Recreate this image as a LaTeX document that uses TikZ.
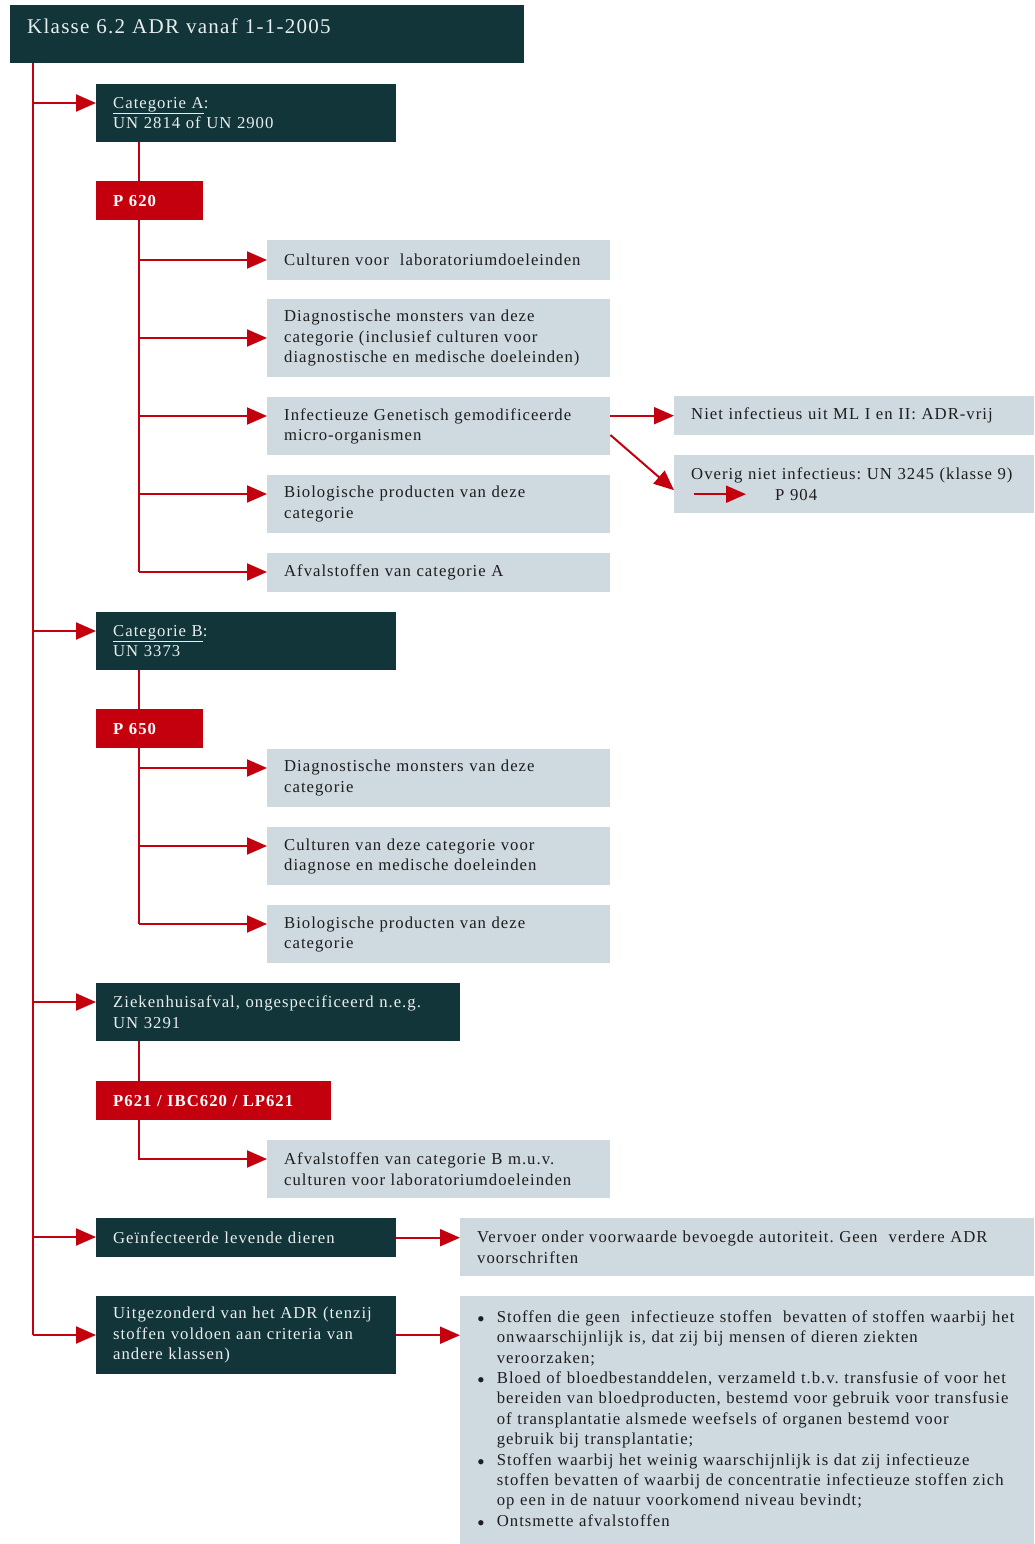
\documentclass[tikz,border=0pt]{standalone}
\usepackage{fontspec}
\setmainfont{Liberation Serif}[LetterSpace=6]
\usetikzlibrary{arrows.meta,calc,positioning}
\definecolor{adrdark}{HTML}{12353A}
\definecolor{adrred}{HTML}{C4000E}
\definecolor{adrlight}{HTML}{CFD9E0}
\definecolor{adrink}{HTML}{1E1E1E}
\definecolor{adrpale}{HTML}{E8EEEE}
\newcommand{\adrbullet}{\raisebox{-4pt}{\fontsize{22pt}{0pt}\selectfont\textbullet}}
\frenchspacing

\begin{document}
\begin{tikzpicture}[x=1pt,y=-1pt,
   every node/.style={anchor=north west,inner xsep=17pt,inner ysep=0pt,align=left,
     font=\fontsize{16.7pt}{20.4pt}\selectfont\frenchspacing},
   darkbox/.style={fill=adrdark,text=adrpale},
   redbox/.style={fill=adrred,text=white,minimum height=39pt,
     font=\fontsize{16.7pt}{20.4pt}\selectfont\bfseries},
   lightbox/.style={fill=adrlight,text=adrink},
   subbox/.style={lightbox,text width=309pt},
   wire/.style={draw=adrred,line width=2pt},
   link/.style={wire,-{Triangle[length=20pt,width=17pt]}}]
   \useasboundingbox (0,0) rectangle (1034,1544);
   \node[darkbox,text width=480pt,text height=28pt,text depth=30pt,
     font=\fontsize{21pt}{24pt}\selectfont] (title) at (10,5) {Klasse 6.2 ADR vanaf 1-1-2005};
   % categorie A
   \node[darkbox,text width=266pt,minimum height=58pt] (catA) at (96,84) {\underline{Categorie A}:\\UN 2814 of UN 2900};
   \node[redbox,text width=73pt] (p620) at (96,181) {P 620};
   \node[subbox,minimum height=40pt] (a1) at (267,240) {Culturen voor\ \ laboratoriumdoeleinden};
   \node[subbox,minimum height=78pt] (a2) at (267,299) {Diagnostische monsters van deze\\categorie (inclusief culturen voor\\diagnostische en medische doeleinden)};
   \node[subbox,minimum height=58pt] (a3) at (267,397) {Infectieuze Genetisch gemodificeerde\\micro-organismen};
   \node[subbox,minimum height=58pt] (a4) at (267,475) {Biologische producten van deze\\categorie};
   \node[subbox,minimum height=39pt] (a5) at (267,553) {Afvalstoffen van categorie A};
   \node[lightbox,text width=326pt,minimum height=39pt] (niet) at (674,396) {Niet infectieus uit ML I en II: ADR-vrij};
   \node[lightbox,text width=326pt,minimum height=58pt] (overig) at (674,455) {Overig niet infectieus: UN 3245 (klasse 9)\\\hspace*{84pt}P 904};
   % categorie B
   \node[darkbox,text width=266pt,minimum height=58pt] (catB) at (96,612) {\underline{Categorie B}:\\UN 3373};
   \node[redbox,text width=73pt] (p650) at (96,709) {P 650};
   \node[subbox,minimum height=58pt] (b1) at (267,749) {Diagnostische monsters van deze\\categorie};
   \node[subbox,minimum height=58pt] (b2) at (267,827) {Culturen van deze categorie voor\\diagnose en medische doeleinden};
   \node[subbox,minimum height=58pt] (b3) at (267,905) {Biologische producten van deze\\categorie};
   % ziekenhuisafval
   \node[darkbox,text width=330pt,minimum height=58pt] (zhafval) at (96,983) {Ziekenhuisafval, ongespecificeerd n.e.g.\\UN 3291};
   \node[redbox,text width=201pt] (p621) at (96,1081) {P621 / IBC620 / LP621};
   \node[subbox,minimum height=58pt] (z1) at (267,1140) {Afvalstoffen van categorie B m.u.v.\\culturen voor laboratoriumdoeleinden};
   % dieren en uitzonderingen
   \node[darkbox,text width=266pt,minimum height=39pt] (dieren) at (96,1218) {Geïnfecteerde levende dieren};
   \node[lightbox,text width=540pt,minimum height=58pt] (vervoer) at (460,1218) {Vervoer onder voorwaarde bevoegde autoriteit. Geen\ \ verdere ADR\\voorschriften};
   \node[darkbox,text width=266pt,minimum height=78pt] (uitz) at (96,1296) {Uitgezonderd van het ADR (tenzij\\stoffen voldoen aan criteria van\\andere klassen)};
   \node[lightbox,text width=540pt,minimum height=248pt] (uitzlist) at (460,1296) {%
     \begin{tabular}{@{\hspace{0pt}}l@{\hspace{12pt}}l@{}}
     \adrbullet & Stoffen die geen\ \ infectieuze stoffen\ \ bevatten of stoffen waarbij het\\
     & onwaarschijnlijk is, dat zij bij mensen of dieren ziekten\\
     & veroorzaken;\\
     \adrbullet & Bloed of bloedbestanddelen, verzameld t.b.v. transfusie of voor het\\
     & bereiden van bloedproducten, bestemd voor gebruik voor transfusie\\
     & of transplantatie alsmede weefsels of organen bestemd voor\\
     & gebruik bij transplantatie;\\
     \adrbullet & Stoffen waarbij het weinig waarschijnlijk is dat zij infectieuze\\
     & stoffen bevatten of waarbij de concentratie infectieuze stoffen zich\\
     & op een in de natuur voorkomend niveau bevindt;\\
     \adrbullet & Ontsmette afvalstoffen
     \end{tabular}};
   % connectors
   \coordinate (trunk) at (33,0);
   \coordinate (sub) at (139,0);
   \draw[wire] (title.south -| trunk) -- (trunk |- uitz.west);
   \foreach \n/\d in {catA/19,catB/19,zhafval/19,dieren/19,uitz/39}
     \draw[link] ($(trunk |- \n.north west)+(0,\d)$) -- ($(\n.north west)+(0,\d)$);
   \draw[wire] (catA.south -| sub) -- (p620.north -| sub);
   \draw[wire] (p620.south -| sub) -- ($(sub |- a5.north)+(0,19)$);
   \foreach \n/\d in {a1/20,a2/39,a3/19,a4/19,a5/19}
     \draw[link] ($(sub |- \n.north west)+(0,\d)$) -- ($(\n.north west)+(0,\d)$);
   \draw[wire] (catB.south -| sub) -- (p650.north -| sub);
   \draw[wire] (p650.south -| sub) -- ($(sub |- b3.north)+(0,19)$);
   \foreach \n in {b1,b2,b3}
     \draw[link] ($(sub |- \n.north west)+(0,19)$) -- ($(\n.north west)+(0,19)$);
   \draw[wire] (zhafval.south -| sub) -- (p621.north -| sub);
   \draw[link] (p621.south -| sub) |- ($(z1.north west)+(0,19)$);
   \draw[link] (a3.east |- niet.west) -- (niet.west);
   \draw[link] ($(a3.north east)+(0,38)$) -- ($(overig.west)+(0,6)$);
   \coordinate (p904from) at ($(overig.west)+(20,10)$);
   \coordinate (p904to) at ($(overig.west)+(72,10)$);
   \draw[link] (p904from) -- (p904to);
   \draw[link] (dieren.east) -- (vervoer.west |- dieren.east);
   \draw[link] (uitz.east) -- (uitzlist.west |- uitz.east);
\end{tikzpicture}
\end{document}
